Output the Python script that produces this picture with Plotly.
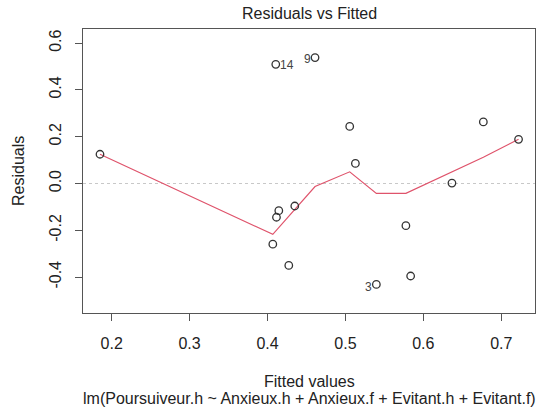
import plotly.graph_objects as go

# Data
fitted = [0.185, 0.4068, 0.4106, 0.4115, 0.4145, 0.4273, 0.435, 0.461,
          0.5055, 0.5128, 0.5397, 0.5776, 0.5837, 0.6367, 0.677, 0.7222]
resid = [0.125, -0.259, 0.509, -0.144, -0.116, -0.350, -0.096, 0.538,
         0.244, 0.086, -0.431, -0.180, -0.395, 0.002, 0.263, 0.189]

smooth_x = [0.185, 0.4068, 0.461, 0.5055, 0.5397, 0.5776, 0.677, 0.7222]
smooth_y = [0.125, -0.217, -0.013, 0.050, -0.042, -0.042, 0.112, 0.189]

label_x = [0.4106, 0.461, 0.5397]
label_y = [0.509, 0.538, -0.431]
label_txt = ["14", "9", "3"]
label_pos = ["right", "left", "left"]

x_ticks = [0.2, 0.3, 0.4, 0.5, 0.6, 0.7]
y_ticks = [-0.4, -0.2, 0.0, 0.2, 0.4, 0.6]
x_range = [0.1632, 0.7433]
y_range = [-0.553, 0.660]

FONT = "Liberation Sans, Arial, sans-serif"
TXT = "#222222"

fig = go.Figure()

# zero reference line
fig.add_trace(go.Scatter(x=x_range, y=[0, 0], mode="lines",
                         line=dict(color="#c8c8c8", width=1.1, dash="dot"),
                         hoverinfo="skip", showlegend=False))

# smoother
fig.add_trace(go.Scatter(x=smooth_x, y=smooth_y, mode="lines",
                         line=dict(color="#DF536B", width=1.2),
                         showlegend=False))

# points
fig.add_trace(go.Scatter(x=fitted, y=resid, mode="markers",
                         marker=dict(symbol="circle-open", size=7.5,
                                     color="#333333", line=dict(width=1.3)),
                         showlegend=False))

# labels
for lx, ly, lt, lp in zip(label_x, label_y, label_txt, label_pos):
    fig.add_annotation(x=lx, y=ly, text=lt, showarrow=False,
                       xanchor="left" if lp == "right" else "right",
                       xshift=2 if lp == "right" else -2,
                       yshift=-1 if lt != "3" else -3,
                       font=dict(family=FONT, size=12, color="#444444"))

axis_common = dict(showline=True, linecolor="#555555", linewidth=1.3,
                   mirror=True, ticks="outside", ticklen=7, tickwidth=1.3,
                   tickcolor="#555555", showgrid=False, zeroline=False,
                   tickfont=dict(family=FONT, size=16, color=TXT))

fig.update_xaxes(range=x_range, tickvals=x_ticks,
                 ticktext=[f"{v:.1f}" for v in x_ticks],
                 ticklabelstandoff=9, **axis_common)
fig.update_yaxes(range=y_range, tickvals=y_ticks,
                 ticktext=[f"{v:.1f}" for v in y_ticks],
                 tickangle=-90, ticklabelstandoff=7, **axis_common)

# titles
fig.add_annotation(text="Residuals vs Fitted", xref="paper", yref="paper",
                   x=0.5, y=1, yanchor="middle", yshift=16, showarrow=False,
                   font=dict(family=FONT, size=16, color=TXT))
fig.add_annotation(text="Fitted values", xref="paper", yref="paper",
                   x=0.5, y=0, yanchor="middle", yshift=-68, showarrow=False,
                   font=dict(family=FONT, size=16, color=TXT))
fig.add_annotation(text="lm(Poursuiveur.h ~ Anxieux.h + Anxieux.f + Evitant.h + Evitant.f)",
                   xref="paper", yref="paper",
                   x=0.5, y=0, yanchor="middle", yshift=-85, showarrow=False,
                   font=dict(family=FONT, size=16, color=TXT))
fig.add_annotation(text="Residuals", xref="paper", yref="paper",
                   x=0, y=0.5, xanchor="center", xshift=-65, textangle=-90,
                   showarrow=False, font=dict(family=FONT, size=16, color=TXT))

fig.update_layout(width=536, height=412,
                  margin=dict(l=83, r=1, t=29, b=99),
                  plot_bgcolor="white", paper_bgcolor="white")

fig.write_html("out.html")
